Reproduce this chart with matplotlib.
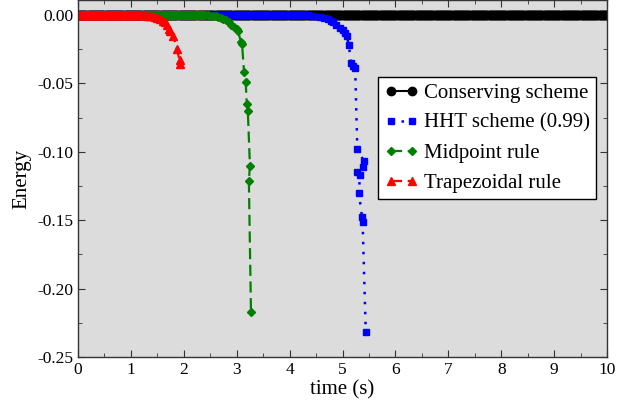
import numpy as np
import matplotlib
matplotlib.use("Agg")
import matplotlib.pyplot as plt

plt.rcParams["font.family"] = ["Liberation Serif", "DejaVu Serif"]
plt.rcParams["axes.unicode_minus"] = False

# simulation time step for the flat (energy == 0) stretches
dt = 0.02

# Conserving scheme: energy stays at zero over the whole run
t_cons = np.arange(0.0, 10.0 + dt / 2, dt)
e_cons = np.zeros_like(t_cons)

# HHT scheme (0.99): flat until ~4.3 s, then blows up
hht_flat_end = 4.3
t_hht_tail = [4.35, 4.45, 4.57, 4.65, 4.72, 4.78, 4.82, 4.88, 4.95, 5.00, 5.05,
              5.08, 5.12, 5.16, 5.20, 5.24, 5.28, 5.41, 5.38, 5.27, 5.33, 5.31,
              5.37, 5.38, 5.44]
e_hht_tail = [-0.0003, -0.0008, -0.0015, -0.002, -0.003, -0.004, -0.005, -0.007,
              -0.0095, -0.011, -0.013, -0.015, -0.022, -0.035, -0.037, -0.039,
              -0.098, -0.107, -0.111, -0.115, -0.117, -0.130, -0.148, -0.151,
              -0.232]

# Midpoint rule: flat until ~2.4 s
mid_flat_end = 2.4
t_mid_tail = [2.45, 2.5, 2.55, 2.6, 2.65, 2.7, 2.75, 2.8, 2.85, 2.9, 2.95, 3.0,
              3.03, 3.08, 3.10, 3.14, 3.17, 3.19, 3.21, 3.25, 3.23, 3.27]
e_mid_tail = [-0.0002, -0.0004, -0.0006, -0.001, -0.0014, -0.002, -0.0028,
              -0.0038, -0.005, -0.007, -0.0085, -0.0105, -0.012, -0.020, -0.021,
              -0.042, -0.049, -0.065, -0.070, -0.110, -0.121, -0.217]

# Trapezoidal rule: flat until ~1.2 s
trap_flat_end = 1.2
t_trap_tail = [1.25, 1.3, 1.35, 1.4, 1.45, 1.5, 1.55, 1.6, 1.64, 1.68, 1.72,
               1.74, 1.80, 1.87, 1.92, 1.93]
e_trap_tail = [-0.0002, -0.0004, -0.0007, -0.001, -0.0015, -0.002, -0.003,
               -0.004, -0.005, -0.007, -0.010, -0.012, -0.015, -0.025, -0.033,
               -0.036]


def series(flat_end, t_tail, e_tail):
    t_flat = np.arange(0.0, flat_end + dt / 2, dt)
    t = np.concatenate([t_flat, t_tail])
    e = np.concatenate([np.zeros_like(t_flat), e_tail])
    return t, e


t_hht, e_hht = series(hht_flat_end, t_hht_tail, e_hht_tail)
t_mid, e_mid = series(mid_flat_end, t_mid_tail, e_mid_tail)
t_trap, e_trap = series(trap_flat_end, t_trap_tail, e_trap_tail)

fig = plt.figure(figsize=(6.17, 4.01), dpi=100)
ax = fig.add_axes([78 / 617, 44 / 401, 529 / 617, 357 / 401])
ax.set_facecolor("#dcdcdc")

ax.plot(t_cons, e_cons, color="black", lw=1.5, marker="o", ms=6,
        label="Conserving scheme")
ax.plot(t_hht, e_hht, color="blue", lw=1.8, ls=(0, (1, 3)), marker="s", ms=4.5,
        label="HHT scheme (0.99)")
ax.plot(t_mid, e_mid, color="green", lw=1.6, ls=(0, (5, 2.5)), marker="D",
        ms=4, label="Midpoint rule")
ax.plot(t_trap, e_trap, color="red", lw=1.6, ls=(0, (5, 2.5)), marker="^",
        ms=5.5, label="Trapezoidal rule")

ax.set_xlim(0, 10)
ax.set_ylim(-0.25, 0.011)
ax.set_xticks(np.arange(0, 11, 1))
ax.set_xticks(np.arange(0.5, 10, 1), minor=True)
ax.set_yticks([-0.25, -0.20, -0.15, -0.10, -0.05, 0.00])
ax.set_yticks([-0.225, -0.175, -0.125, -0.075, -0.025], minor=True)
ax.yaxis.set_major_formatter(matplotlib.ticker.FormatStrFormatter("%.2f"))
ax.tick_params(which="both", direction="in", top=True, right=True,
               labelsize=12.5, color="#333333")
ax.tick_params(which="major", length=5)
ax.tick_params(which="minor", length=3)
for s in ax.spines.values():
    s.set_color("#333333")
    s.set_linewidth(1.0)

ax.set_xlabel("time (s)", fontsize=15, labelpad=2)
ax.set_ylabel("Energy", fontsize=15, labelpad=4)

leg = ax.legend(loc="upper right", bbox_to_anchor=(0.98, 0.784),
                borderaxespad=0, fontsize=15, frameon=True, fancybox=False,
                framealpha=1, edgecolor="black", numpoints=2,
                handlelength=1.6, handletextpad=0.3, labelspacing=0.5,
                borderpad=0.3)
leg.get_frame().set_linewidth(1.0)

fig.savefig("out.png", dpi=100)
